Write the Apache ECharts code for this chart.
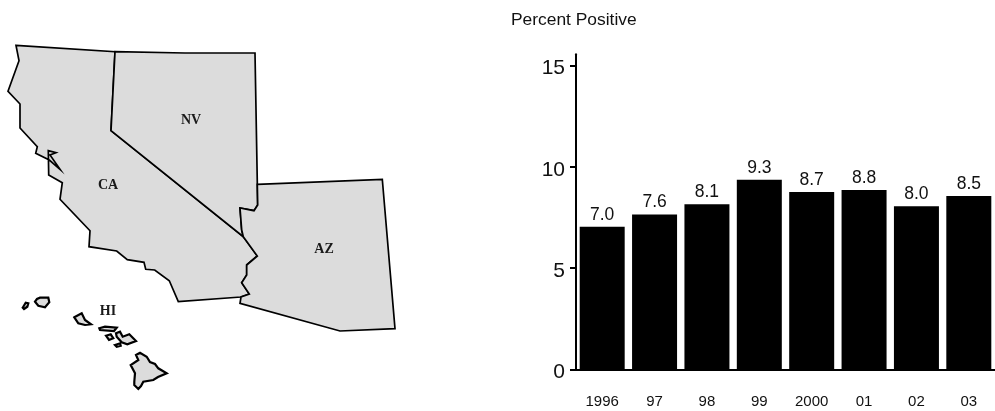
<!DOCTYPE html>
<html>
<head>
<meta charset="utf-8">
<style>html,body{margin:0;padding:0;background:#fff}#c{width:995px;height:411px}</style>
<script src="https://cdn.jsdelivr.net/npm/echarts@6/dist/echarts.min.js"></script>
</head>
<body>
<div id="c"></div>
<script>
// Bar chart data
const years = ['1996','97','98','99','2000','01','02','03'];
const percentPositive = [7.0,7.6,8.1,9.3,8.7,8.8,8.0,8.5];
const yTicks = [0,5,10,15];
const titleText = 'Percent Positive';

// Map outlines
const caOutline = [[16,45.3],[115,51.7],[111,130.7],[243.3,236.7],[257.3,256],[246.7,265],[246.7,275],[241.7,282.7],[249.3,294],[241,297],[178.3,301.7],[169.3,280.7],[154.7,270],[145.7,269.3],[144,262.3],[127.3,259.7],[116.7,251],[89,246.7],[90,230.7],[60,199.3],[62.3,182.7],[48.7,175],[48.3,150.7],[56,152.7],[50,155],[60,169.3],[49.3,160],[35.7,153.3],[37.3,146.7],[20,128],[20,104],[8,91.3],[19,60.7]];
const nvOutline = [[115,51.7],[185,53],[255,53],[257.7,205],[254,210.7],[240,208],[241.7,230],[243.3,236.7],[111,130.7]];
const azOutline = [[257.3,184.3],[382.3,179.3],[395,328.7],[340,331],[240,303.3],[241,297],[249.3,294],[241.7,282.7],[246.7,275],[246.7,265],[257.3,256],[243.3,236.7],[241.7,230],[240,208],[254,210.7],[257.7,205]];
const hiIslands = [
  [[22.7,307.7],[25.7,302.7],[28.3,303.3],[27.3,306.7],[24,309]],
  [[35,301.7],[37,299],[40,297.7],[48.3,297.7],[49.3,302.3],[45,307.3],[38.3,305.7]],
  [[74.3,317.3],[81.7,313.3],[85,320],[91,324.3],[85,325],[78.3,323.3]],
  [[99.3,328.3],[105,326.7],[116.7,327.7],[114,331],[100,330]],
  [[106,335.7],[110.7,334.3],[113.3,338.3],[109,340]],
  [[116,333.3],[120,331.7],[122.7,336.7],[129.3,334.3],[136,341],[127.3,344.3],[121.7,342.3],[116.7,336.7]],
  [[115,345],[120,343.3],[120.7,345.7],[116.7,346.7]],
  [[136,355],[140,352.7],[146.7,356.7],[150,362],[155,364],[158.3,368.3],[166.7,373.3],[158,377],[153.3,380],[143.3,381.7],[141,386],[138.3,389],[134.3,385],[134.3,381.7],[135,373.3],[130.7,365],[138.3,360]]
];
const stateNames = ['CA','NV','AZ','HI'];
const labelPoints = {CA:[108,185],NV:[191,120.5],AZ:[324,249],HI:[108,311.5]};

const closeRing = r => r.concat([r[0]]);
const geo = {type:'FeatureCollection',features:[
  {type:'Feature',properties:{name:'CA',cp:labelPoints.CA},geometry:{type:'Polygon',coordinates:[closeRing(caOutline)]}},
  {type:'Feature',properties:{name:'NV',cp:labelPoints.NV},geometry:{type:'Polygon',coordinates:[closeRing(nvOutline)]}},
  {type:'Feature',properties:{name:'AZ',cp:labelPoints.AZ},geometry:{type:'Polygon',coordinates:[closeRing(azOutline)]}},
  {type:'Feature',properties:{name:'HI',cp:labelPoints.HI},geometry:{type:'MultiPolygon',coordinates:hiIslands.map(r=>[closeRing(r)])}}
]};
echarts.registerMap('states',geo);

const chart = echarts.init(document.getElementById('c'),null,{renderer:'canvas'});
const font = '"Liberation Sans", Arial, sans-serif';
chart.setOption({
  animation:false,
  backgroundColor:'#fff',
  title:{text:titleText,left:511,top:12,padding:0,textStyle:{fontFamily:font,fontSize:17.4,fontWeight:'normal',color:'#111'}},
  grid:{left:576,top:54.3,width:427.6,height:315.2,containLabel:false},
  xAxis:{type:'category',data:years,
    axisLine:{show:true,lineStyle:{color:'#000',width:2}},
    axisTick:{show:false},
    axisLabel:{color:'#111',fontFamily:font,fontSize:15,margin:25,interval:0}},
  yAxis:[
    {type:'value',min:0,max:15.56,splitLine:{show:false},
     axisLine:{show:true,lineStyle:{color:'#000',width:2}},
     axisTick:{show:true,length:6,lineStyle:{color:'#000',width:2},customValues:yTicks},
     axisLabel:{margin:11,customValues:yTicks,formatter:'{t|{value}}',
       rich:{t:{color:'#111',fontFamily:font,fontSize:21,padding:[6,0,0,0]}}}},
    {type:'value',min:0,max:15.45,show:false,splitLine:{show:false}}
  ],
  series:[
    {type:'bar',yAxisIndex:1,data:percentPositive,barWidth:45,itemStyle:{color:'#000'},
     label:{show:true,position:'top',distance:3,color:'#111',fontFamily:font,fontSize:17.5,
       formatter:p=>p.value.toFixed(1)}},
    {type:'map',map:'states',silent:true,selectedMode:false,
     projection:{project:p=>p,unproject:p=>p},
     left:8,top:45.3,width:387,height:343.7,
     data:stateNames.map(n=>({name:n,value:1,itemStyle:n==='HI'?{borderWidth:2.2}:undefined})),
     itemStyle:{areaColor:'#dcdcdc',borderColor:'#000',borderWidth:1.7},
     label:{show:true,formatter:'{b}',color:'#1a1a1a',fontFamily:'"Liberation Serif", serif',fontWeight:'bold',fontSize:14}}
  ]
});
</script>
</body>
</html>
